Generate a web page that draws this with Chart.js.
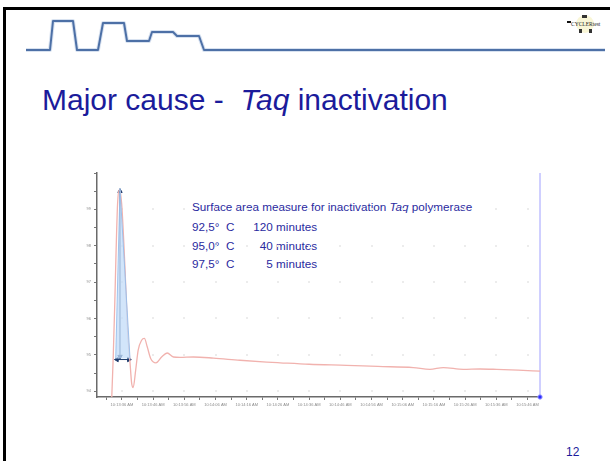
<!DOCTYPE html>
<html>
<head>
<meta charset="utf-8">
<script src="https://cdn.jsdelivr.net/npm/chart.js@4.4.1/dist/chart.umd.min.js"></script>
<style>
  html, body { margin: 0; padding: 0; background: #fff; }
  body { width: 610px; height: 461px; position: relative; overflow: hidden; font-family: "Liberation Sans", Arial, sans-serif; }
  .frame { position: absolute; left: 3px; top: 7px; right: 0; bottom: 0; border-left: 3px solid #000; border-top: 3px solid #000; }
  #title { position: absolute; left: 42px; top: 85px; font-size: 30px; line-height: 1; color: #1b1b9b; white-space: pre; }
  .note { position: absolute; font-size: 11.7px; line-height: 1; color: #2a2aa0; white-space: pre; }
  #page { position: absolute; left: 566px; top: 446px; font-size: 12px; line-height: 1; color: #1b1b9b; }
  #chartBox { position: absolute; left: 60px; top: 160px; }
</style>
</head>
<body>
<div class="frame"></div>

<svg width="610" height="60" style="position:absolute;left:0;top:0">
  <polyline points="26,50 50,50 53,21 73,21 77,50 98,50 103,23 124,23 127,41 149,41 152,32 173,32 177,36 199,36 204,50 605,50"
            fill="none" stroke="#d8e2f0" stroke-width="4" stroke-linejoin="round"/>
  <polyline points="26,50 50,50 53,21 73,21 77,50 98,50 103,23 124,23 127,41 149,41 152,32 173,32 177,36 199,36 204,50 605,50"
            fill="none" stroke="#4d70a6" stroke-width="2" stroke-linejoin="round"/>
  <circle cx="585" cy="24" r="9" fill="#f6f2c4" opacity="0.7"/>
  <rect x="567" y="21" width="4" height="2" fill="#111"/>
  <rect x="582" y="15" width="5" height="3" fill="#333"/>
  <rect x="579" y="29" width="3" height="4" fill="#333"/>
  <rect x="589" y="29" width="3" height="4" fill="#333"/>
  <text x="571" y="25.5" font-size="5.5" font-family="Liberation Serif" fill="#222">CYCLERtest</text>
</svg>

<div id="title">Major cause -  <i>Taq</i> inactivation</div>

<div class="note" style="left:192px;top:201px">Surface area measure for inactivation <i>Taq</i> polymerase</div>
<div class="note" style="left:192px;top:221px">92,5°</div>
<div class="note" style="left:226px;top:221px">C</div>
<div class="note" style="left:252px;top:221px;width:65px;text-align:right">120 minutes</div>
<div class="note" style="left:192px;top:240px">95,0°</div>
<div class="note" style="left:226px;top:240px">C</div>
<div class="note" style="left:252px;top:240px;width:65px;text-align:right">40 minutes</div>
<div class="note" style="left:192px;top:258px">97,5°</div>
<div class="note" style="left:226px;top:258px">C</div>
<div class="note" style="left:252px;top:258px;width:65px;text-align:right">5 minutes</div>

<div id="page">12</div>

<div id="chartBox"><canvas id="tempChart" width="490" height="260"></canvas></div>

<script>
// time in seconds relative to 10:13:36 AM, temperature in deg C
const times = [-3.5, -2.8, -2.3, -1.9, -1.4, -0.85, -0.1, 1.0, 1.8, 2.6, 3.1, 3.6, 4.4, 5.2, 6.3, 7.2, 8.1, 9.2, 10.9, 12.7,
  14.5, 16.5, 18.6, 22.9, 29.3, 37.8, 46.4, 50.7, 60, 72, 82, 93.4, 98.7, 103, 109.4, 114.8, 120.1, 127, 134];
const signal = [93.3, 94.94, 96.42, 97.79, 99.16, 99.54, 99.16, 97.32, 95.68, 94.77, 94.22, 94.10, 94.58, 95.13, 95.40, 95.45, 95.22, 94.90, 94.78, 94.94,
  95.05, 94.94, 94.93, 94.94, 94.91, 94.85, 94.80, 94.78, 94.74, 94.71, 94.68, 94.65, 94.60, 94.65, 94.60, 94.61, 94.60, 94.58, 94.55];

// shaded "surface area" under the first peak
const shadeTimes = [-2.0, -0.63, 2.58];
const shadeValues = [94.9, 99.57, 94.9];

// arrows (vertical height, horizontal width)
const arrowVTimes = [-0.63, -0.63];
const arrowVValues = [94.95, 99.5];
const arrowHTimes = [-1.6, 2.2];
const arrowHValues = [94.87, 94.87];

// cursor line at the end of the run
const cursorTimes = [134, 134];
const cursorValues = [93.84, 100];

const timeLabels = ["10:13:36 AM", "10:13:46 AM", "10:13:56 AM", "10:14:06 AM", "10:14:16 AM", "10:14:26 AM", "10:14:36 AM",
  "10:14:46 AM", "10:14:56 AM", "10:15:06 AM", "10:15:16 AM", "10:15:26 AM", "10:15:36 AM", "10:15:46 AM"];
const yLabels = ["94", "95", "96", "97", "98", "99"];

function pts(xs, ys) {
  return xs.map((x, i) => ({ x: x, y: ys[i] }));
}

// faint dots where the label grid lines would cross
const gridDots = {
  id: "gridDots",
  beforeDatasetsDraw(chart) {
    const { ctx, scales: { x, y } } = chart;
    ctx.save();
    ctx.fillStyle = "#ececec";
    timeLabels.forEach((lbl, i) => {
      const px = Math.round(x.getPixelForValue(i * 10));
      yLabels.forEach(v => {
        const py = Math.round(y.getPixelForValue(Number(v)));
        ctx.fillRect(px - 1, py - 1, 2, 2);
      });
    });
    ctx.restore();
  }
};

const ctx = document.getElementById("tempChart").getContext("2d");

const chart = new Chart(ctx, {
  type: "line",
  data: {
    datasets: [
      {
        label: "shade",
        data: pts(shadeTimes, shadeValues),
        borderColor: "rgba(150,190,235,0.9)",
        backgroundColor: "rgba(195,220,248,0.75)",
        borderWidth: 1,
        pointRadius: 0,
        fill: { value: 94.9 },
        tension: 0,
      },
      {
        label: "temperature",
        data: pts(times, signal),
        borderColor: "#f1b2ae",
        borderWidth: 1.3,
        pointRadius: 0,
        cubicInterpolationMode: "monotone",
        fill: false,
      },
      {
        label: "height",
        data: pts(arrowVTimes, arrowVValues),
        borderColor: "#1d3a6b",
        backgroundColor: "#1d3a6b",
        borderWidth: 1,
        pointStyle: "triangle",
        pointRadius: 2.5,
        pointRotation: [180, 0],
        fill: false,
      },
      {
        label: "width",
        data: pts(arrowHTimes, arrowHValues),
        borderColor: "#1d3a6b",
        backgroundColor: "#1d3a6b",
        borderWidth: 1,
        pointStyle: "triangle",
        pointRadius: 2.5,
        pointRotation: [270, 90],
        fill: false,
      },
      {
        label: "cursor",
        data: pts(cursorTimes, cursorValues),
        borderColor: "#a0a0ff",
        backgroundColor: "#2a2aff",
        borderWidth: 1,
        pointRadius: [2.2, 0],
        fill: false,
        clip: false,
      },
    ],
  },
  options: {
    responsive: false,
    animation: false,
    layout: { padding: { top: 13, right: 10, left: 0, bottom: 0 } },
    plugins: {
      legend: { display: false },
      tooltip: { enabled: false },
    },
    scales: {
      x: {
        type: "linear",
        min: -8,
        max: 134,
        afterFit: s => { s.height = 23; },
        border: { color: "#6a6a6a", width: 1.5 },
        grid: { drawOnChartArea: false, tickLength: 3, tickColor: "#777" },
        ticks: {
          stepSize: 5,
          includeBounds: false,
          autoSkip: false,
          maxRotation: 0,
          padding: 2,
          color: "#8a8a8a",
          font: { size: 4, family: "Liberation Sans" },
          callback: v => (v >= 0 && v % 10 === 0) ? timeLabels[v / 10] : "",
        },
      },
      y: {
        min: 93.84,
        max: 100,
        afterFit: s => { s.width = 37; },
        border: { color: "#6a6a6a", width: 1.5 },
        grid: { drawOnChartArea: false, tickLength: 3, tickColor: "#777" },
        ticks: {
          stepSize: 0.5,
          includeBounds: false,
          autoSkip: false,
          padding: 3,
          color: "#8a8a8a",
          font: { size: 4, family: "Liberation Sans" },
          callback: v => Number.isInteger(v) && v < 100 ? yLabels[v - 94] : "",
        },
      },
    },
  },
  plugins: [gridDots],
});
</script>
</body>
</html>
